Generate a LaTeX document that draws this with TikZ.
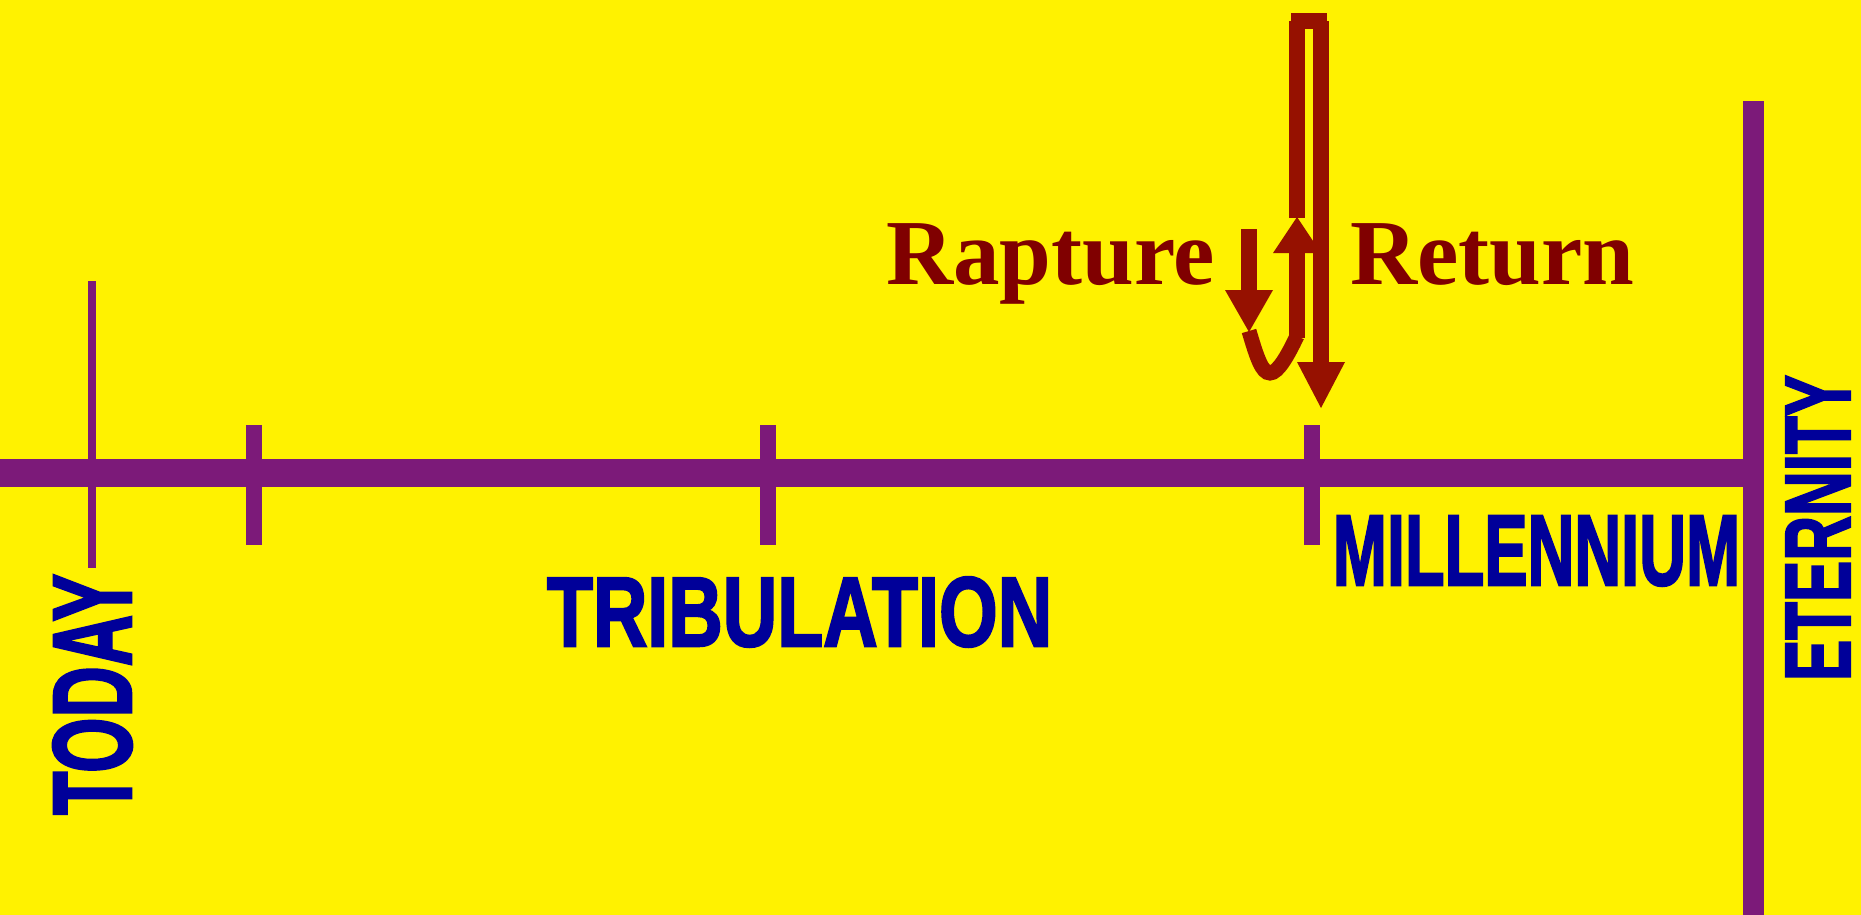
\documentclass[tikz,border=0pt]{standalone}
\usepackage{fontspec}
\usepackage{graphicx}
\newfontfamily\rapfont{Liberation Serif}
\newfontfamily\heavy{Liberation Sans}[BoldFeatures={FakeBold=2.5}]
\definecolor{tlpurple}{RGB}{124,26,121}
\definecolor{arrred}{RGB}{150,17,0}
\definecolor{lblred}{RGB}{128,0,0}
\definecolor{tlblue}{RGB}{0,0,153}
\begin{document}
\begin{tikzpicture}[x=1pt,y=-1pt,
  bar/.style={fill=tlpurple},
  arr/.style={fill=arrred},
  lbl/.style={inner sep=0pt, outer sep=0pt, text=tlblue},
  rlbl/.style={inner sep=0pt, outer sep=0pt, text=lblred, anchor=base west,
    font={\rapfont\bfseries\fontsize{93}{93}\selectfont}}]
\useasboundingbox (0,0) rectangle (1861,915);
\fill[yellow] (0,0) rectangle (1861,915);
% timeline
\fill[bar] (0,459) rectangle (1743,487);
\fill[bar] (1743,101) rectangle (1764,915);
\fill[bar] (88,281) rectangle (96,568);
\fill[bar] (246,425) rectangle (262,545);
\fill[bar] (760,425) rectangle (776,545);
\fill[bar] (1304,425) rectangle (1320,545);
% rapture arrow
\fill[arr] (1241,229) rectangle (1257,291);
\fill[arr] (1225,290) -- (1273,290) -- (1249,332) -- cycle;
\draw[arrred, line width=15pt] (1249,331) .. controls (1257,358) and (1262,373) .. (1270,373) .. controls (1278,373) and (1288,355) .. (1297,336);
\fill[arr] (1289,253) rectangle (1305,338);
\fill[arr] (1273,253) -- (1321,253) -- (1297,217) -- cycle;
\fill[arr] (1289,21) rectangle (1305,218);
\fill[arr] (1289,21) rectangle (1329,29);
\fill[arr] (1291,13) rectangle (1327,21);
% return arrow
\fill[arr] (1313,21) rectangle (1329,363);
\fill[arr] (1297,362) -- (1345,362) -- (1321,408) -- cycle;
% labels
\node[rlbl] (rapture) at (886,284) {Rapture};
\node[rlbl] (return) at (1350,284) {Return};
\node[lbl, rotate=90] (today) at (92.5,694.5) {\resizebox*{241pt}{79pt}{\heavy\bfseries TODAY}};
\node[lbl] (trib) at (799.5,612) {\resizebox*{505pt}{70pt}{\heavy\bfseries TRIBULATION}};
\node[lbl] (mill) at (1536.5,551) {\resizebox*{407pt}{70pt}{\heavy\bfseries MILLENNIUM}};
\node[lbl, rotate=90] (eternity) at (1818,528) {\resizebox*{306pt}{64pt}{\heavy\bfseries ETERNITY}};
\end{tikzpicture}
\end{document}
